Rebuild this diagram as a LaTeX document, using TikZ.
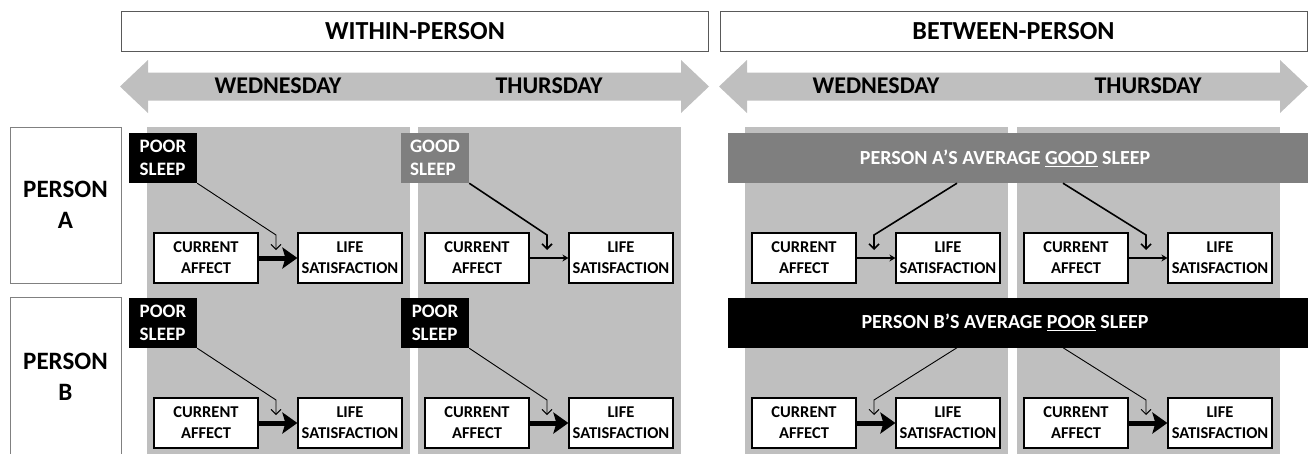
\documentclass[tikz,border=0pt]{standalone}
\usepackage{fontspec}
\setmainfont{Carlito}
\usetikzlibrary{arrows.meta,positioning,calc}
\definecolor{panelgray}{HTML}{BFBFBF}
\definecolor{midgray}{HTML}{7F7F7F}

\begin{document}
\begin{tikzpicture}[x=1pt,y=1pt,
    varbox/.style={draw=black,line width=1.2pt,fill=white,minimum width=104pt,minimum height=50pt,align=center,inner sep=1pt,font=\fontsize{16.5}{21}\selectfont\bfseries},
    sleepbox/.style={minimum width=68pt,minimum height=50pt,align=left,inner sep=0pt,text=white,font=\fontsize{19}{23}\selectfont\bfseries},
    headbox/.style={draw=black!65,line width=0.8pt,fill=white,minimum width=587pt,minimum height=40pt,font=\fontsize{26}{30}\selectfont\bfseries},
    personbox/.style={draw=black!50,line width=0.8pt,fill=white,minimum width=111pt,align=center,font=\fontsize{25}{31}\selectfont\bfseries},
    banner/.style={minimum width=580pt,minimum height=50pt},
    bannertext/.style={text=white,font=\fontsize{20}{24}\selectfont\bfseries},
    daylabel/.style={font=\fontsize{24}{28}\selectfont\bfseries},
    strong/.style={line width=5pt,-{Stealth[length=15pt,width=21pt,inset=3pt]}},
    weak/.style={line width=1.2pt,-{Stealth[length=6pt,width=7pt]}},
    moderator/.style={-{Straight Barb[length=5pt,width=10pt]}}
  ]

  \clip (0,0) rectangle (1309,-453);

  \node[headbox] (within) at (415,-31) {WITHIN-PERSON};
  \node[headbox] (between) at (1013.5,-31) {BETWEEN-PERSON};

  \foreach \a/\b in {120/709,719/1308}{
    \fill[panelgray] (\a,-86.5) -- (\a+28,-60) -- (\a+28,-72.5) -- (\b-28,-72.5) -- (\b-28,-60)
      -- (\b,-86.5) -- (\b-28,-113) -- (\b-28,-100.5) -- (\a+28,-100.5) -- (\a+28,-113) -- cycle;
  }

  \node[personbox,minimum height=156pt] (personA) at (65.5,-205) {PERSON\\A};
  \node[personbox,minimum height=160pt] (personB) at (65.5,-377) {PERSON\\B};

  % day panels
  \foreach \p/\L/\d in {1/147/WEDNESDAY,2/418/THURSDAY,3/745/WEDNESDAY,4/1017/THURSDAY}{
    \fill[panelgray] (\L,-127) rectangle (\L+263,-460);
    \node[daylabel] (day\p) at (\L+131,-86) {\d};
  }

  \node[sleepbox,fill=black] (sleepA1) at (163,-158) {POOR\\SLEEP};
  \node[sleepbox,fill=midgray] (sleepA2) at (435,-158) {GOOD\\SLEEP};
  \node[sleepbox,fill=black] (sleepB1) at (163,-323) {POOR\\SLEEP};
  \node[sleepbox,fill=black] (sleepB2) at (435,-323) {POOR\\SLEEP};

  \node[banner,fill=midgray] (banA) at (1018,-158) {};
  \node[banner,fill=black] (banB) at (1018,-322.5) {};
  \node[bannertext] (banAtext) at ($ (banA)+(-13,0) $) {PERSON A’S AVERAGE \underline{GOOD} SLEEP};
  \node[bannertext] (banBtext) at ($ (banB)+(-13,0) $) {PERSON B’S AVERAGE \underline{POOR} SLEEP};

  \foreach \r/\t in {A/0,B/165}{
    \foreach \p/\L in {1/147,2/418,3/745,4/1017}{
      \node[varbox] (ca\r\p) at (\L+59,-258-\t) {CURRENT\\AFFECT};
      \node[varbox] (ls\r\p) at (\L+203,-258-\t) {LIFE\\SATISFACTION};
      \coordinate (tip\r\p) at (\L+129,-250-\t);
    }
  }

  \coordinate (srcA1) at (sleepA1.south east);
  \coordinate (srcA2) at (sleepA2.south east);
  \coordinate (srcB1) at (sleepB1.south east);
  \coordinate (srcB2) at (sleepB2.south east);
  \coordinate (srcA3) at ($ (banA.south)+(-61,0) $);
  \coordinate (srcA4) at ($ (banA.south)+(45,0) $);
  \coordinate (srcB3) at ($ (banB.south)+(-61,0) $);
  \coordinate (srcB4) at ($ (banB.south)+(45,0) $);

  % effect of affect on satisfaction
  \foreach \e/\s in {A1/strong,A2/weak,A3/weak,A4/weak,B1/strong,B2/strong,B3/strong,B4/strong}{
    \draw[\s] (ca\e) -- (ls\e);
  }

  % sleep as moderator
  \foreach \e/\w in {A1/0.9pt,A2/1.6pt,A3/1.6pt,A4/1.6pt,B1/0.9pt,B2/0.9pt,B3/0.9pt,B4/0.9pt}{
    \draw[moderator,line width=\w] (src\e) -- ($ (tip\e)+(0,15) $) -- (tip\e);
  }

\end{tikzpicture}
\end{document}
